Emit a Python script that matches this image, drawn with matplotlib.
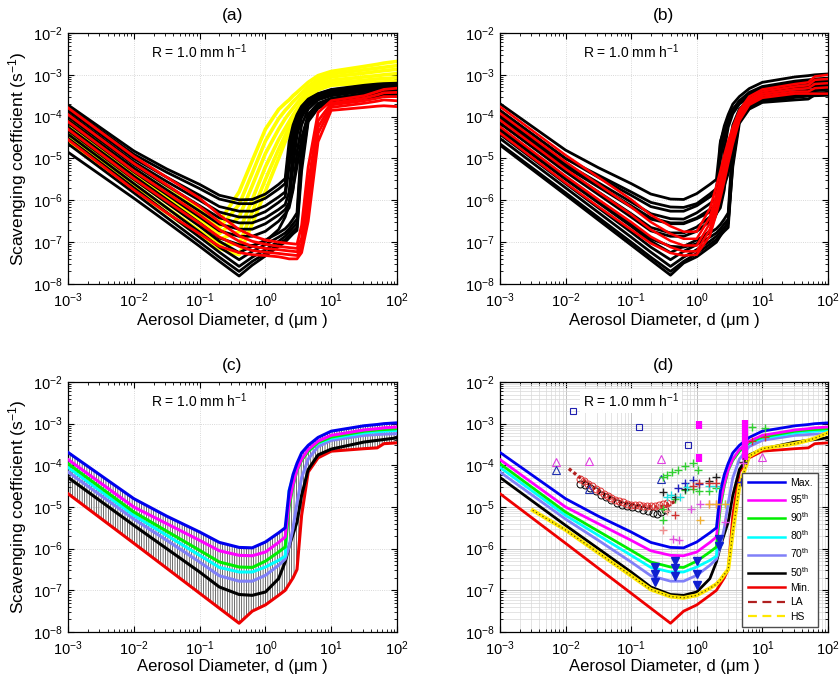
import numpy as np
import matplotlib
matplotlib.use("Agg")
import matplotlib.pyplot as plt
from matplotlib.lines import Line2D
from matplotlib.ticker import LogLocator, NullFormatter

plt.rcParams['font.family'] = ['Liberation Sans', 'DejaVu Sans']
plt.rcParams['mathtext.fontset'] = 'custom'
plt.rcParams['mathtext.rm'] = 'Liberation Sans'
plt.rcParams['mathtext.it'] = 'Liberation Sans:italic'
plt.rcParams['hatch.linewidth'] = 0.5

# ---------------- data (log10 of diameter in um, log10 of coefficient in 1/s) ----------------
LOG_D = [-3, -2, -1.5, -1, -0.7, -0.4, -0.2, 0, 0.2, 0.3, 0.36, 0.42, 0.48, 0.55, 0.65, 0.8, 1.0, 1.5, 1.7, 1.8, 2.0]

# percentile curves (panels c, d)
P_MAX = [-3.69, -4.80, -5.22, -5.60, -5.85, -5.97, -5.98, -5.84, -5.62, -5.50, -4.62, -4.22, -3.95, -3.70, -3.52, -3.33, -3.18, -3.05, -3.02, -3.00, -2.98]
P_95 = [-3.86, -5.00, -5.40, -5.80, -6.05, -6.16, -6.17, -6.08, -5.85, -5.72, -4.90, -4.45, -4.10, -3.85, -3.62, -3.42, -3.28, -3.15, -3.12, -3.10, -3.08]
P_90 = [-3.96, -5.12, -5.58, -6.04, -6.32, -6.44, -6.45, -6.30, -6.08, -5.96, -5.00, -4.50, -4.12, -3.88, -3.66, -3.45, -3.32, -3.18, -3.15, -3.14, -3.12]
P_80 = [-4.05, -5.20, -5.68, -6.16, -6.45, -6.56, -6.56, -6.44, -6.28, -6.18, -4.60, -4.30, -4.05, -3.85, -3.66, -3.47, -3.35, -3.22, -3.19, -3.18, -3.16]
P_70 = [-4.16, -5.29, -5.80, -6.32, -6.65, -6.78, -6.78, -6.64, -6.40, -6.25, -5.95, -5.50, -4.90, -4.30, -3.85, -3.55, -3.40, -3.28, -3.26, -3.25, -3.24]
P_50 = [-4.29, -5.44, -6.00, -6.56, -6.92, -7.10, -7.12, -7.04, -6.72, -6.32, -5.95, -5.65, -5.36, -4.72, -4.10, -3.75, -3.61, -3.44, -3.40, -3.38, -3.34]
P_MIN = [-4.68, -5.87, -6.47, -7.07, -7.43, -7.79, -7.50, -7.35, -7.12, -7.00, -6.85, -6.70, -6.50, -5.20, -4.16, -3.82, -3.66, -3.60, -3.58, -3.48, -3.46]

# black ensemble members (panels a, b)
BK01 = [-3.72, -4.82, -5.25, -5.62, -5.88, -5.99, -5.98, -5.85, -5.62, -5.48, -4.60, -4.20, -3.95, -3.75, -3.58, -3.45, -3.35, -3.25, -3.22, -3.21, -3.20]
BK02 = [-3.78, -4.90, -5.33, -5.72, -5.97, -6.08, -6.08, -5.95, -5.73, -5.60, -4.80, -4.30, -4.00, -3.78, -3.60, -3.46, -3.36, -3.27, -3.24, -3.23, -3.22]
BK03 = [-3.85, -5.00, -5.45, -5.88, -6.15, -6.26, -6.26, -6.13, -5.92, -5.80, -5.00, -4.40, -4.06, -3.82, -3.63, -3.48, -3.38, -3.29, -3.26, -3.25, -3.24]
BK04 = [-3.92, -5.08, -5.55, -6.00, -6.28, -6.40, -6.40, -6.27, -6.05, -5.92, -5.20, -4.50, -4.12, -3.86, -3.66, -3.50, -3.40, -3.31, -3.28, -3.27, -3.26]
BK05 = [-4.00, -5.15, -5.65, -6.13, -6.42, -6.54, -6.54, -6.42, -6.22, -6.10, -5.80, -4.80, -4.25, -3.93, -3.70, -3.53, -3.43, -3.33, -3.30, -3.29, -3.28]
BK06 = [-4.08, -5.23, -5.75, -6.26, -6.57, -6.69, -6.69, -6.56, -6.35, -6.22, -6.05, -5.20, -4.45, -4.02, -3.74, -3.56, -3.46, -3.36, -3.33, -3.32, -3.31]
BK07 = [-4.15, -5.32, -5.86, -6.40, -6.73, -6.86, -6.86, -6.74, -6.50, -6.32, -6.18, -5.75, -4.85, -4.20, -3.82, -3.60, -3.50, -3.40, -3.37, -3.36, -3.35]
BK08 = [-4.25, -5.42, -5.98, -6.54, -6.90, -7.06, -7.08, -6.98, -6.70, -6.40, -6.10, -5.70, -5.20, -4.50, -3.95, -3.68, -3.56, -3.45, -3.42, -3.41, -3.40]
BK09 = [-4.33, -5.50, -6.06, -6.62, -6.98, -7.25, -7.10, -6.95, -6.78, -6.68, -6.58, -6.45, -6.30, -4.60, -3.95, -3.70, -3.58, -3.47, -3.44, -3.43, -3.42]
BK10 = [-4.42, -5.60, -6.18, -6.76, -7.12, -7.42, -7.22, -7.06, -6.88, -6.78, -6.68, -6.56, -6.45, -4.75, -4.00, -3.72, -3.60, -3.50, -3.47, -3.46, -3.45]
BK11 = [-4.52, -5.70, -6.29, -6.88, -7.24, -7.58, -7.36, -7.18, -6.98, -6.86, -6.76, -6.65, -6.55, -4.90, -4.05, -3.75, -3.62, -3.52, -3.49, -3.48, -3.47]
BK12 = [-4.65, -5.82, -6.41, -7.00, -7.36, -7.70, -7.46, -7.27, -7.05, -6.94, -6.84, -6.74, -6.65, -5.10, -4.08, -3.77, -3.64, -3.54, -3.51, -3.50, -3.49]
BK13 = [-4.85, -5.95, -6.52, -7.10, -7.46, -7.81, -7.55, -7.33, -7.10, -7.00, -6.90, -6.80, -6.72, -5.30, -4.12, -3.80, -3.66, -3.56, -3.53, -3.52, -3.50]
BLACK_SET_A = [BK01, BK02, BK03, BK04, BK05, BK06, BK07, BK08, BK09, BK10, BK11, BK12, BK13]
BLACK_SET_B = [P_MAX, P_95, P_90, P_80, P_70, P_50, P_MIN, BK03, BK05, BK07, BK09, BK10, BK11, BK12]

# yellow members (panel a)
YA1 = [-4.03, -5.12, -5.65, -6.20, -6.52, -5.80, -5.05, -4.30, -3.83, -3.68, -3.60, -3.50, -3.42, -3.32, -3.18, -3.02, -2.92, -2.80, -2.75, -2.72, -2.68]
YA2 = [-4.15, -5.25, -5.78, -6.33, -6.66, -6.10, -5.35, -4.58, -4.05, -3.85, -3.75, -3.64, -3.55, -3.44, -3.28, -3.10, -2.98, -2.88, -2.84, -2.82, -2.78]
YA3 = [-4.25, -5.38, -5.92, -6.47, -6.80, -6.40, -5.65, -4.88, -4.30, -4.05, -3.92, -3.80, -3.68, -3.55, -3.37, -3.17, -3.05, -2.96, -2.92, -2.90, -2.87]
YA4 = [-4.38, -5.50, -6.05, -6.60, -6.93, -6.75, -5.98, -5.20, -4.55, -4.28, -4.12, -3.96, -3.82, -3.66, -3.46, -3.24, -3.13, -3.05, -3.02, -3.00, -2.97]
YA5 = [-4.50, -5.63, -6.18, -6.73, -7.05, -7.05, -6.28, -5.50, -4.78, -4.45, -4.25, -4.07, -3.90, -3.73, -3.53, -3.30, -3.20, -3.13, -3.10, -3.09, -3.07]
YA6 = [-4.60, -5.75, -6.30, -6.85, -7.15, -7.30, -6.56, -5.78, -5.00, -4.60, -4.38, -4.17, -3.98, -3.80, -3.60, -3.36, -3.25, -3.20, -3.18, -3.17, -3.15]
YELLOW_A = [YA1, YA2, YA3, YA4, YA5, YA6]

# red members (panel a)
RA1 = [-3.79, -4.95, -5.45, -5.95, -6.35, -6.70, -6.85, -6.95, -7.00, -7.02, -7.03, -7.04, -7.05, -6.60, -5.20, -3.90, -3.62, -3.50, -3.40, -3.35, -3.32]
RA2 = [-3.95, -5.12, -5.63, -6.15, -6.52, -6.85, -6.98, -7.05, -7.10, -7.12, -7.13, -7.14, -7.15, -6.90, -5.60, -4.10, -3.68, -3.56, -3.48, -3.43, -3.42]
RA3 = [-4.12, -5.30, -5.82, -6.35, -6.70, -6.98, -7.10, -7.15, -7.18, -7.20, -7.21, -7.22, -7.23, -7.05, -5.90, -4.25, -3.72, -3.62, -3.56, -3.52, -3.52]
RA4 = [-4.30, -5.48, -6.02, -6.55, -6.88, -7.10, -7.20, -7.24, -7.27, -7.29, -7.30, -7.31, -7.32, -7.15, -6.20, -4.40, -3.78, -3.68, -3.63, -3.60, -3.62]
RA5 = [-4.55, -5.75, -6.30, -6.80, -7.10, -7.25, -7.30, -7.32, -7.35, -7.38, -7.40, -7.40, -7.40, -7.25, -6.50, -4.60, -3.85, -3.78, -3.75, -3.74, -3.76]
RED_A = [RA1, RA2, RA3, RA4, RA5]

# red members (panel b)
RB1 = [-3.76, -4.92, -5.45, -5.98, -6.35, -6.62, -6.75, -6.75, -6.20, -5.65, -5.30, -4.92, -4.58, -4.25, -3.85, -3.52, -3.35, -3.22, -3.18, -3.04, -3.00]
RB2 = [-3.92, -5.08, -5.62, -6.16, -6.52, -6.80, -6.92, -6.92, -6.40, -5.85, -5.50, -5.10, -4.72, -4.35, -3.92, -3.58, -3.40, -3.28, -3.25, -3.12, -3.10]
RB3 = [-4.08, -5.25, -5.80, -6.34, -6.70, -6.97, -7.08, -7.08, -6.55, -6.02, -5.66, -5.25, -4.86, -4.45, -3.98, -3.63, -3.45, -3.34, -3.32, -3.22, -3.20]
RB4 = [-4.24, -5.42, -5.98, -6.52, -6.87, -7.12, -7.22, -7.22, -6.70, -6.18, -5.80, -5.40, -5.00, -4.55, -4.04, -3.68, -3.50, -3.40, -3.40, -3.32, -3.30]
RB5 = [-4.39, -5.58, -6.15, -6.70, -7.03, -7.26, -7.32, -7.30, -6.85, -6.32, -5.95, -5.55, -5.12, -4.65, -4.10, -3.72, -3.55, -3.45, -3.45, -3.45, -3.45]
RED_B = [RB1, RB2, RB3, RB4, RB5]

# HS and LA curves (panel d)
HS_LOG_D = [-2.5, -2, -1.5, -1, -0.7, -0.4, -0.2, 0, 0.2, 0.3, 0.36, 0.42, 0.48, 0.55, 0.65, 0.8, 1.0, 1.5, 1.7, 1.8, 2.0]
HS_LOG_K = [-5.08, -5.55, -6.10, -6.65, -6.98, -7.15, -7.18, -7.12, -6.95, -6.85, -6.75, -6.62, -6.50, -5.60, -4.50, -3.78, -3.60, -3.48, -3.40, -3.35, -3.22]
LA_LOG_D = [-1.95, -1.8, -1.6, -1.4, -1.2, -1.0, -0.8, -0.6, -0.45, -0.3]
LA_LOG_K = [-4.08, -4.27, -4.50, -4.70, -4.86, -4.94, -4.98, -5.00, -4.96, -4.84]

# observation markers (panel d), log10 values
RC_LOG_D = [-1.78, -1.72, -1.66, -1.6, -1.54, -1.48, -1.42, -1.36, -1.3, -1.24, -1.18, -1.12, -1.06, -1.0, -0.94, -0.88, -0.82, -0.76, -0.7, -0.64, -0.58, -0.52, -0.46]
RC_LOG_K = [-4.32, -4.38, -4.45, -4.50, -4.56, -4.62, -4.68, -4.74, -4.78, -4.82, -4.86, -4.89, -4.92, -4.94, -4.95, -4.96, -4.97, -4.98, -4.98, -4.97, -4.96, -4.93, -4.90]
BC_LOG_D = [-1.78, -1.7, -1.62, -1.54, -1.46, -1.38, -1.3, -1.22, -1.14, -1.06, -0.98, -0.9, -0.82, -0.74, -0.66, -0.6, -0.54, -0.48]
BC_LOG_K = [-4.45, -4.48, -4.55, -4.62, -4.70, -4.77, -4.84, -4.90, -4.95, -4.98, -5.00, -5.03, -5.06, -5.10, -5.15, -5.16, -5.12, -5.06]
SQ_LOG_D = [-1.88, -0.88, -0.14]
SQ_LOG_K = [-2.69, -3.08, -3.50]
MT_LOG_D = [-2.15, -1.65, -0.54, 0.99]
MT_LOG_K = [-3.92, -3.90, -3.85, -3.80]
BT_LOG_D = [-2.15, -1.65, -0.54, 0.99]
BT_LOG_K = [-4.12, -4.57, -4.32, -4.37]
DT_LOG_D = [-0.64, -0.64, -0.64, -0.33, -0.33, -0.33, 0.0, 0.0, 0.0, 0.34, 0.34]
DT_LOG_K = [-6.43, -6.62, -6.81, -6.29, -6.47, -6.66, -6.30, -6.60, -6.88, -5.76, -5.94]
BAR_LOG_D = [0.03, 0.03, 0.73]
BAR_LOG_LO = [-3.13, -3.91, -3.88]
BAR_LOG_HI = [-2.93, -3.73, -2.90]
PLUS_GREEN_D = [-0.51, -0.45, -0.37, -0.28, -0.18, -0.05, 0.02, 0.84, 1.04, -0.51, -0.51, -0.33, -0.18, -0.05, 0.03, 0.18, 0.29]
PLUS_GREEN_K = [-4.28, -4.22, -4.16, -4.10, -4.02, -3.94, -4.12, -3.08, -3.10, -5.32, -5.04, -4.80, -4.60, -4.56, -4.62, -4.62, -4.54]
PLUS_BLACK_D = [-0.51, -0.33, -0.18, 0.18, 0.29, 0.71]
PLUS_BLACK_K = [-4.65, -4.76, -4.56, -4.37, -4.28, -3.93]
PLUS_BLUE_D = [-0.28, -0.18, -0.05, 0.03, 0.68, 0.85]
PLUS_BLUE_K = [-4.55, -4.43, -4.34, -4.45, -4.40, -4.39]
PLUS_CYAN_D = [-0.46, -0.40, -0.25, -0.15, 0.18, 0.29, 0.43]
PLUS_CYAN_K = [-4.76, -4.70, -4.75, -4.52, -4.50, -4.49, -4.92]
PLUS_RED_D = [-0.46, -0.33, -0.05, 0.03, 0.18, 0.29, 0.84, 1.04]
PLUS_RED_K = [-4.96, -5.20, -4.50, -4.42, -4.42, -4.42, -3.42, -3.33]
PLUS_MAG_D = [-0.36, -0.27, -0.08, 0.05, 0.18, 0.29, 0.43, 0.70]
PLUS_MAG_K = [-5.76, -5.80, -5.04, -4.92, -4.92, -4.92, -5.36, -3.95]
PLUS_ORANGE_D = [0.05, 0.18, 0.29, 0.43]
PLUS_ORANGE_K = [-5.32, -4.92, -4.92, -4.92]
PLUS_SALMON_D = [-0.51, -0.46]
PLUS_SALMON_K = [-5.56, -5.10]

PCT_LABELS = ['Max.', r'95$^{\mathrm{th}}$', r'90$^{\mathrm{th}}$', r'80$^{\mathrm{th}}$',
              r'70$^{\mathrm{th}}$', r'50$^{\mathrm{th}}$', 'Min.']
PCT_CURVES = [P_MAX, P_95, P_90, P_80, P_70, P_50, P_MIN]
PCT_COLORS = ['#0000EE', '#FF00FF', '#00EE00', '#00FFFF', '#8080F8', '#000000', '#EE0000']

# ---------------- figure ----------------
def p10(v):
    return 10.0 ** np.asarray(v, dtype=float)

D = p10(LOG_D)

fig = plt.figure(figsize=(8.39, 6.80), dpi=100)
pos = {'a': [0.0811, 0.5824, 0.3921, 0.3691],
       'b': [0.5959, 0.5824, 0.3909, 0.3691],
       'c': [0.0811, 0.0706, 0.3921, 0.3676],
       'd': [0.5959, 0.0706, 0.3909, 0.3676]}
axes = {k: fig.add_axes(v) for k, v in pos.items()}

for key, ax in axes.items():
    ax.set_xscale('log')
    ax.set_yscale('log')
    ax.set_xlim(1e-3, 1e2)
    ax.set_ylim(1e-8, 1e-2)
    ax.xaxis.set_major_locator(LogLocator(base=10, numticks=10))
    ax.yaxis.set_major_locator(LogLocator(base=10, numticks=10))
    ax.xaxis.set_minor_locator(LogLocator(base=10, subs=np.arange(2, 10), numticks=20))
    ax.yaxis.set_minor_locator(LogLocator(base=10, subs=np.arange(2, 10), numticks=20))
    ax.xaxis.set_minor_formatter(NullFormatter())
    ax.yaxis.set_minor_formatter(NullFormatter())
    ax.tick_params(which='both', direction='in', top=True, right=True, labelsize=10.5)
    ax.tick_params(which='major', length=4, width=0.8)
    ax.tick_params(which='minor', length=2, width=0.6)
    ax.tick_params(axis='x', pad=5.5)
    ax.tick_params(axis='y', pad=4)
    for s in ax.spines.values():
        s.set_linewidth(0.9)
    if key == 'd':
        ax.grid(True, which='major', color='0.72', lw=0.6, ls='-')
        ax.grid(True, which='minor', color='0.85', lw=0.5, ls='-')
    else:
        ax.grid(True, which='major', color='0.8', lw=0.6, ls=':')
    ax.set_axisbelow(True)
    ax.set_title('(%s)' % key, fontsize=12.5, pad=9)
    ax.set_xlabel('Aerosol Diameter, d (\u03bcm )', fontsize=12,
                  labelpad=2 if key in ('a', 'b') else 0.5)
    txt = ax.text(0.40, 0.925, r'R = 1.0 mm h$^{-1}$', transform=ax.transAxes,
                  ha='center', va='center', fontsize=10, zorder=6)
    if key == 'd':
        txt.set_bbox(dict(facecolor='white', edgecolor='none', pad=2))

for key in ('a', 'c'):
    axes[key].set_ylabel(r'Scavenging coefficient (s$^{-1}$)', fontsize=12.5, labelpad=3)

# panel (a)
ax = axes['a']
for c in YELLOW_A:
    ax.plot(D, p10(c), color='#FFFF00', lw=2.6, zorder=2.5)
for c in BLACK_SET_A:
    ax.plot(D, p10(c), color='black', lw=2.0, zorder=3)
for c in RED_A:
    ax.plot(D, p10(c), color='#FF0000', lw=2.0, zorder=4)

# panel (b)
ax = axes['b']
for c in BLACK_SET_B:
    ax.plot(D, p10(c), color='black', lw=2.0, zorder=3)
for c in RED_B:
    ax.plot(D, p10(c), color='#FF0000', lw=1.8, zorder=4)

# panel (c)
ax = axes['c']
ax.fill_between(D, p10(P_MIN), p10(P_MAX), facecolor='none', edgecolor='0.2',
                hatch='|||||||', linewidth=0, zorder=2)
for c, col in list(zip(PCT_CURVES, PCT_COLORS))[::-1]:
    ax.plot(D, p10(c), color=col, lw=2.2, zorder=4)

# panel (d)
ax = axes['d']
for c, col in list(zip(PCT_CURVES, PCT_COLORS))[::-1]:
    ax.plot(D, p10(c), color=col, lw=2.0, zorder=4)
ax.plot(p10(HS_LOG_D), p10(HS_LOG_K), color='#FFE800', lw=2.8, zorder=5)
ax.plot(p10(HS_LOG_D), p10(HS_LOG_K), color='#5a4a00', lw=0.9, ls=(0, (1, 2)), zorder=5)
ax.plot(p10(LA_LOG_D), p10(LA_LOG_K), color='#B02020', lw=2.4, ls=(0, (1, 0.8)), zorder=5)
ax.plot(p10(BC_LOG_D), p10(BC_LOG_K), 'o', mfc='none', mec='black', ms=5, mew=0.7, zorder=6)
ax.plot(p10(RC_LOG_D), p10(RC_LOG_K), 'o', mfc='none', mec='#E03030', ms=5, mew=0.7, zorder=6)
ax.plot(p10(SQ_LOG_D), p10(SQ_LOG_K), 's', mfc='none', mec='#2020B0', ms=4.5, mew=0.8, zorder=6)
ax.plot(p10(MT_LOG_D), p10(MT_LOG_K), '^', mfc='none', mec='#E040E0', ms=5.5, mew=0.8, zorder=6)
ax.plot(p10(BT_LOG_D), p10(BT_LOG_K), '^', mfc='none', mec='#2030B0', ms=5.5, mew=0.8, zorder=6)
ax.plot(p10(DT_LOG_D), p10(DT_LOG_K), 'v', color='#1020D0', ms=5.5, zorder=6)
ax.vlines(p10(BAR_LOG_D), p10(BAR_LOG_LO), p10(BAR_LOG_HI), color='#FF00FF', lw=4.5, zorder=6)
for dd, kk, col in [(PLUS_GREEN_D, PLUS_GREEN_K, '#30D030'), (PLUS_BLACK_D, PLUS_BLACK_K, '#202020'),
                    (PLUS_BLUE_D, PLUS_BLUE_K, '#2020C0'), (PLUS_CYAN_D, PLUS_CYAN_K, '#20E0E0'),
                    (PLUS_RED_D, PLUS_RED_K, '#D03030'), (PLUS_MAG_D, PLUS_MAG_K, '#E050E0'),
                    (PLUS_ORANGE_D, PLUS_ORANGE_K, '#F0B030'), (PLUS_SALMON_D, PLUS_SALMON_K, '#F09090')]:
    ax.plot(p10(dd), p10(kk), '+', color=col, ms=6, mew=1.0, zorder=6)

handles = [Line2D([], [], color=c, lw=1.8) for c in PCT_COLORS]
handles.append(Line2D([], [], color='#B02020', lw=1.6, ls=(0, (4, 2.5))))
handles.append(Line2D([], [], color='#FFE800', lw=1.6, ls=(0, (4, 2.5))))
leg = ax.legend(handles, PCT_LABELS + ['LA', 'HS'], loc='lower right',
                bbox_to_anchor=(0.97, 0.02), borderaxespad=0, fontsize=7.5,
                handlelength=3.6, handletextpad=0.5, labelspacing=0.42,
                fancybox=False, framealpha=1, edgecolor='0.3', borderpad=0.5)
leg.get_frame().set_linewidth(1.0)
leg.set_zorder(10)

fig.savefig('out.png', dpi=100)
